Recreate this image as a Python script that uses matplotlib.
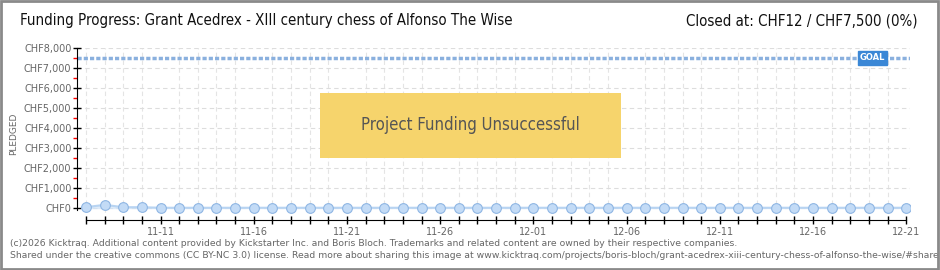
import matplotlib
matplotlib.use("Agg")
import matplotlib.pyplot as plt
import matplotlib.dates as mdates
from matplotlib.patches import Rectangle
from matplotlib.ticker import MultipleLocator, FixedLocator, FuncFormatter
import pandas as pd

# Data
dates = pd.date_range("2025-11-07", "2025-12-21", freq="D")
pledged = [40, 160, 40, 40] + [12] * 41
goal = 7500
title = "Funding Progress: Grant Acedrex - XIII century chess of Alfonso The Wise"
status = "Closed at: CHF12 / CHF7,500 (0%)"
footer = ["(c)2026 Kicktraq. Additional content provided by Kickstarter Inc. and Boris Bloch. "
          "Trademarks and related content are owned by their respective companies.",
          "Shared under the creative commons (CC BY-NC 3.0) license. Read more about sharing this "
          "image at www.kicktraq.com/projects/boris-bloch/grant-acedrex-xiii-century-chess-of-alfonso-the-wise/#share"]

fig = plt.figure(figsize=(9.4, 2.7), dpi=100)
fig.patches.append(Rectangle((0.001, 0.002), 0.997, 0.995, transform=fig.transFigure,
                             fill=False, edgecolor="#8a8a8a", linewidth=2, zorder=10))

ax = fig.add_axes([77 / 940, 1 - 220 / 270, (910 - 77) / 940, (220 - 48) / 270])
x0 = mdates.date2num(dates[0])
ax.set_xlim(x0 - 0.48, x0 + 44.2)
ax.set_ylim(-600, 8000)

ax.fill_between(dates, pledged, 0, color="#cfe2f7", alpha=0.6, zorder=2)
ax.plot(dates, pledged, color="#b8d4f2", linewidth=1.5, marker="o", markersize=7,
        markerfacecolor="#c3dbf6", markeredgecolor="#8fb6e3", markeredgewidth=0.8, zorder=3)
ax.axhline(goal, color="#8ab0de", linewidth=2.5, linestyle=(0, (1.2, 0.6)), zorder=2)

# goal tag
ax.text(x0 + 42.2, goal, "GOAL", fontsize=6, color="white", fontweight="bold",
        ha="center", va="center", zorder=5,
        bbox=dict(boxstyle="square,pad=0.25", facecolor="#3a87d6", edgecolor="#3a87d6"))

# unsuccessful banner
ax.add_patch(Rectangle((0.2917, 0.36), 0.3613, 0.378, transform=ax.transAxes,
                       facecolor="#f6d46c", edgecolor="none", zorder=4))
ax.text(0.4723, 0.55, "Project Funding Unsuccessful", transform=ax.transAxes,
        fontsize=12, color="#555555", ha="center", va="center", zorder=5,
        fontstretch="condensed")

# axes styling
for s in ["top", "right"]:
    ax.spines[s].set_visible(False)
ax.spines["left"].set_bounds(-120, 8000)
ax.spines["bottom"].set_bounds(x0, x0 + 44)

ax.yaxis.set_major_locator(MultipleLocator(1000))
ax.yaxis.set_minor_locator(FixedLocator(range(500, 8000, 1000)))
ax.yaxis.set_major_formatter(FuncFormatter(lambda v, p: "CHF{:,.0f}".format(v)))
ax.tick_params(axis="y", which="major", length=6, width=1, color="black",
               labelsize=7, labelcolor="#666666", pad=1, direction="inout")
ax.tick_params(axis="y", which="minor", length=3, width=1, color="red")

ax.xaxis.set_major_locator(mdates.DayLocator(bymonthday=[1, 6, 11, 16, 21, 26]))
ax.xaxis.set_minor_locator(mdates.DayLocator())
ax.xaxis.set_major_formatter(mdates.DateFormatter("%m-%d"))
ax.tick_params(axis="x", which="both", length=6, width=1, color="black",
               labelsize=7, labelcolor="#666666", pad=2, direction="inout")

ax.grid(True, axis="y", which="major", color="#dddddd", linestyle=(0, (4, 3)), linewidth=0.8)
ax.grid(True, axis="x", which="minor", color="#e4e4e4", linestyle=(0, (4, 3)), linewidth=0.8)
ax.set_axisbelow(True)

ax.set_ylabel("PLEDGED", fontsize=6.5, color="#666666", labelpad=4)

fig.text(20 / 940, 1 - 21 / 270, title, fontsize=10.8, color="#111111", va="center",
         fontstretch="condensed")
fig.text(918 / 940, 1 - 21 / 270, status, fontsize=10.8, color="#111111", va="center", ha="right",
         fontstretch="condensed")
fig.text(10 / 940, 1 - 243 / 270, footer[0], fontsize=6.7, color="#666666", va="center")
fig.text(10 / 940, 1 - 255 / 270, footer[1], fontsize=6.7, color="#666666", va="center")

fig.savefig("out.png", dpi=100)
